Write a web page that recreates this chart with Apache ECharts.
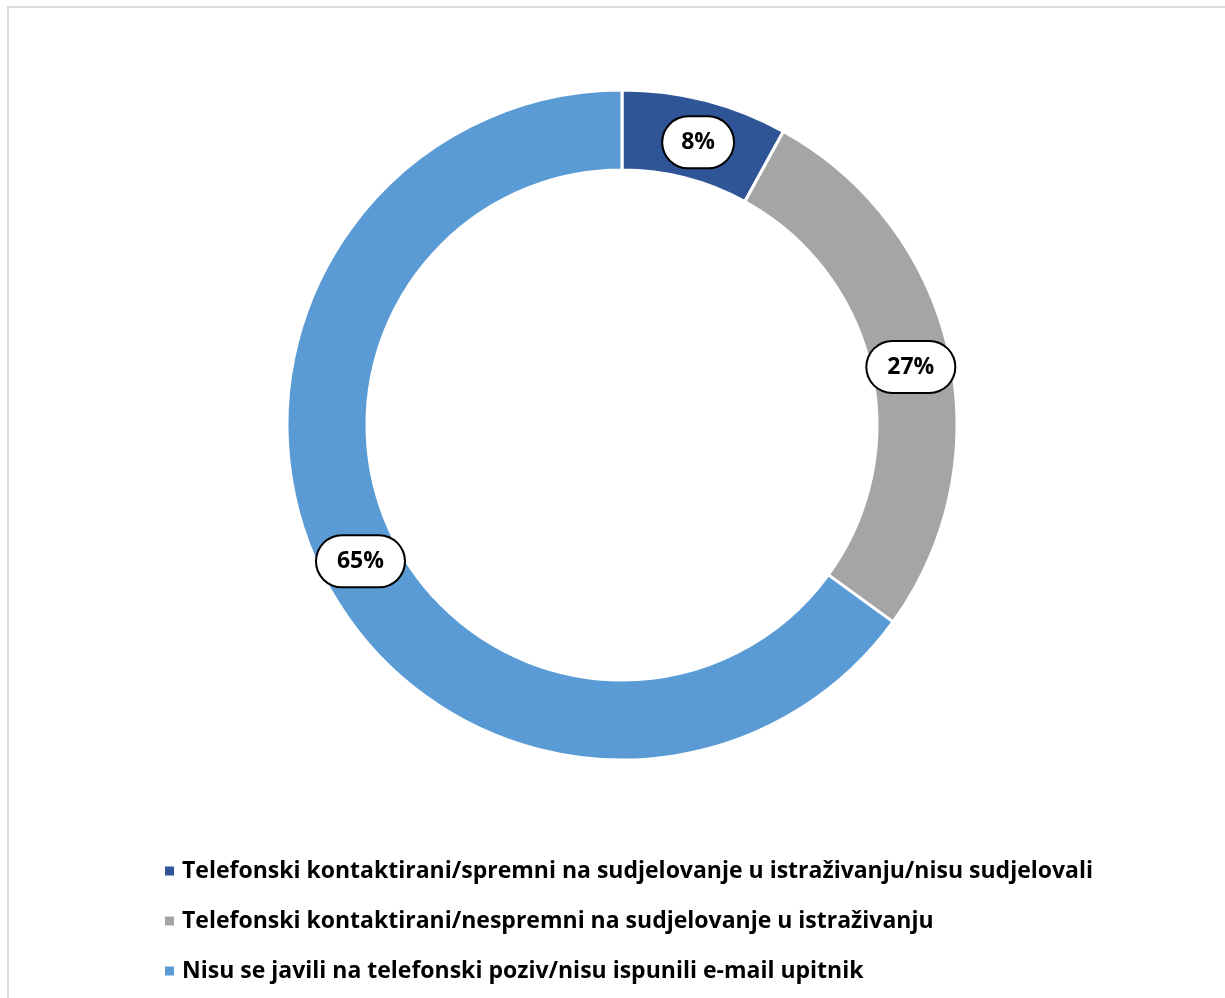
<!DOCTYPE html>
<html>
<head>
<meta charset="utf-8">
<script src="https://cdn.jsdelivr.net/npm/echarts@6/dist/echarts.min.js"></script>
<style>
html,body{margin:0;padding:0;background:#fff;}
#chart{width:1225px;height:998px;}
</style>
</head>
<body>
<div id="chart"></div>
<script>
const categories = [
  "Telefonski kontaktirani/spremni na sudjelovanje u istraživanju/nisu sudjelovali",
  "Telefonski kontaktirani/nespremni na sudjelovanje u istraživanju",
  "Nisu se javili na telefonski poziv/nisu ispunili e-mail upitnik"
];
const values = [8, 27, 65];
const colors = ["#2F5597", "#A5A5A5", "#5B9BD5"];

const chart = echarts.init(document.getElementById('chart'), null, {renderer: 'canvas'});
const fontFam = '"Open Sans", sans-serif';
const labelPadding = [[14, 18, 13, 18], [14, 20, 13, 20], [14, 20, 13, 20]];
const labelOffset = [[2, 6], [-2, 7], [4, 1]];
const data = categories.map((c, i) => ({
  name: c,
  value: values[i],
  itemStyle: {color: colors[i]},
  label: {padding: labelPadding[i], offset: labelOffset[i]}
}));
chart.setOption({
  animation: false,
  graphic: [{
    type: 'rect',
    shape: {x: 8, y: 7, width: 1400, height: 1200},
    style: {fill: 'none', stroke: '#D9D9D9', lineWidth: 2},
    silent: true
  }],
  legend: {
    orient: 'vertical',
    left: 158,
    top: 854,
    itemWidth: 11,
    itemHeight: 11,
    itemGap: 26,
    icon: 'rect',
    textStyle: {fontFamily: fontFam, fontWeight: 'bold', fontSize: 23, lineHeight: 24, color: '#000', padding: [0, 0, 0, 2]},
    data: categories
  },
  series: [{
    type: 'pie',
    center: [622, 425],
    radius: [255, 335],
    startAngle: 90,
    clockwise: true,
    avoidLabelOverlap: false,
    itemStyle: {borderColor: '#fff', borderWidth: 3},
    label: {
      show: true,
      position: 'inside',
      formatter: '{d}%',
      fontFamily: fontFam,
      fontWeight: 'bold',
      fontSize: 23,
      color: '#000',
      backgroundColor: '#fff',
      borderColor: '#000',
      borderWidth: 2,
      borderRadius: 28
    },
    labelLine: {show: false},
    emphasis: {disabled: true},
    data: data
  }]
});
</script>
</body>
</html>
